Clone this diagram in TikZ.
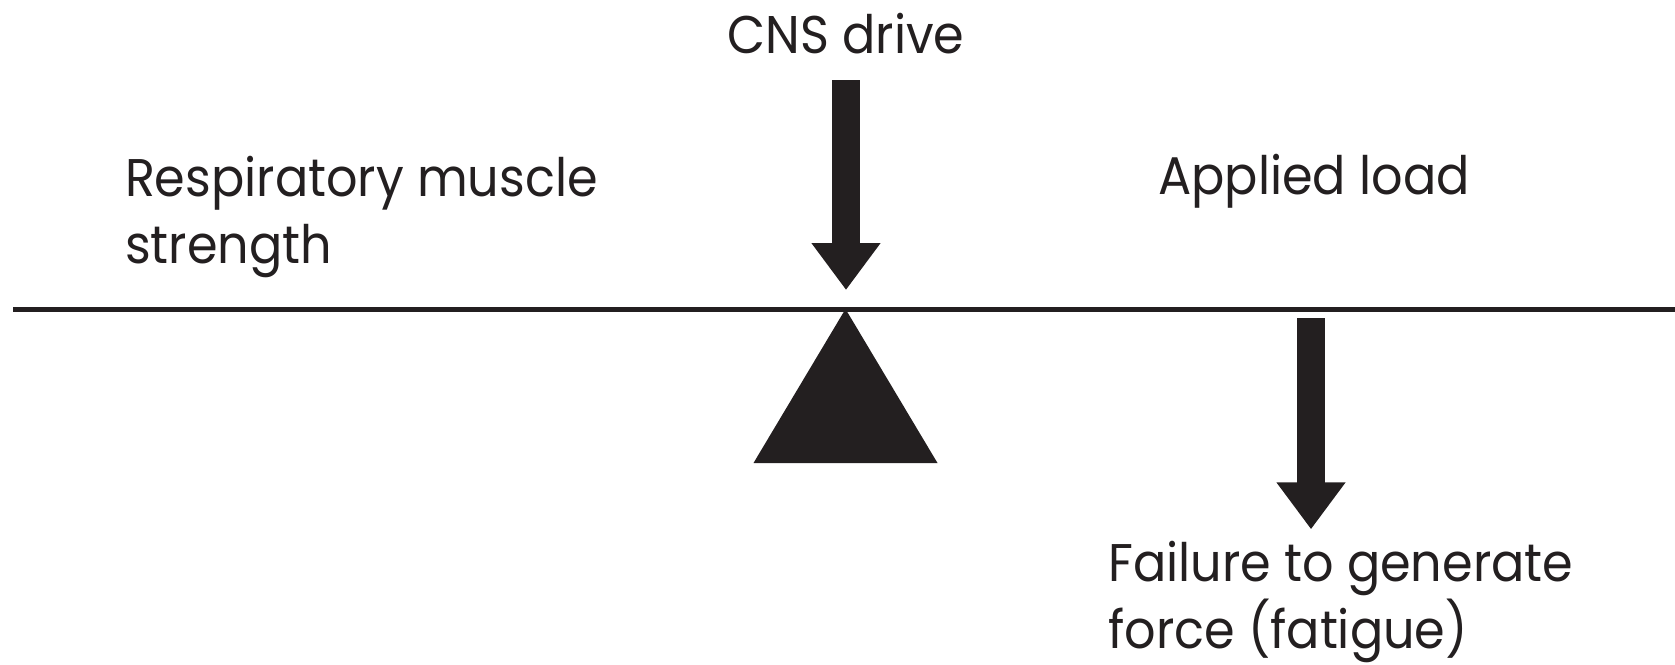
\documentclass[tikz,border=0pt]{standalone}
\usepackage{fontspec}
\setmainfont{Poppins}[FakeStretch=0.93]
\usetikzlibrary{arrows.meta}
\definecolor{ink}{RGB}{35,31,32}
\tikzset{
  lbl/.style={inner sep=0pt, outer sep=0pt, text=ink, align=left,
    font=\fontsize{26.5pt}{33.6pt}\selectfont},
  blockarrow/.style={draw=ink, line width=14pt,
    -{Triangle[width=33pt,length=23.5pt]}, ink},
  beam/.style={draw=ink, line width=2.5pt}
}
\begin{document}
\begin{tikzpicture}[x=0.5pt,y=-0.5pt]
\useasboundingbox (0,0) rectangle (1675,664);
% beam and fulcrum
\coordinate (beamL) at (13,309);
\coordinate (beamR) at (1675,309);
\coordinate (pivot) at (845.5,309);
\draw[beam] (beamL) -- (beamR);
\fill[ink] (pivot) -- (937.5,463) -- (753.5,463) -- cycle;
% labels
\node[lbl, anchor=base] (cns) at (846,53.3) {CNS drive};
\node[lbl, anchor=base west] (resp) at (125,263.3) {Respiratory muscle\\strength};
\node[lbl, anchor=base west] (load) at (1158.3,194) {Applied load};
\node[lbl, anchor=base west] (fail) at (1108.3,648.3) {Failure to generate\\force (fatigue)};
% arrows
\coordinate (cnsTail) at (846,80);
\coordinate (cnsTip) at (846,290);
\coordinate (loadTail) at (1311,318);
\coordinate (loadTip) at (1311,529.3);
\draw[blockarrow] (cnsTail) -- (cnsTip);
\draw[blockarrow] (loadTail) -- (loadTip);
\end{tikzpicture}
\end{document}
